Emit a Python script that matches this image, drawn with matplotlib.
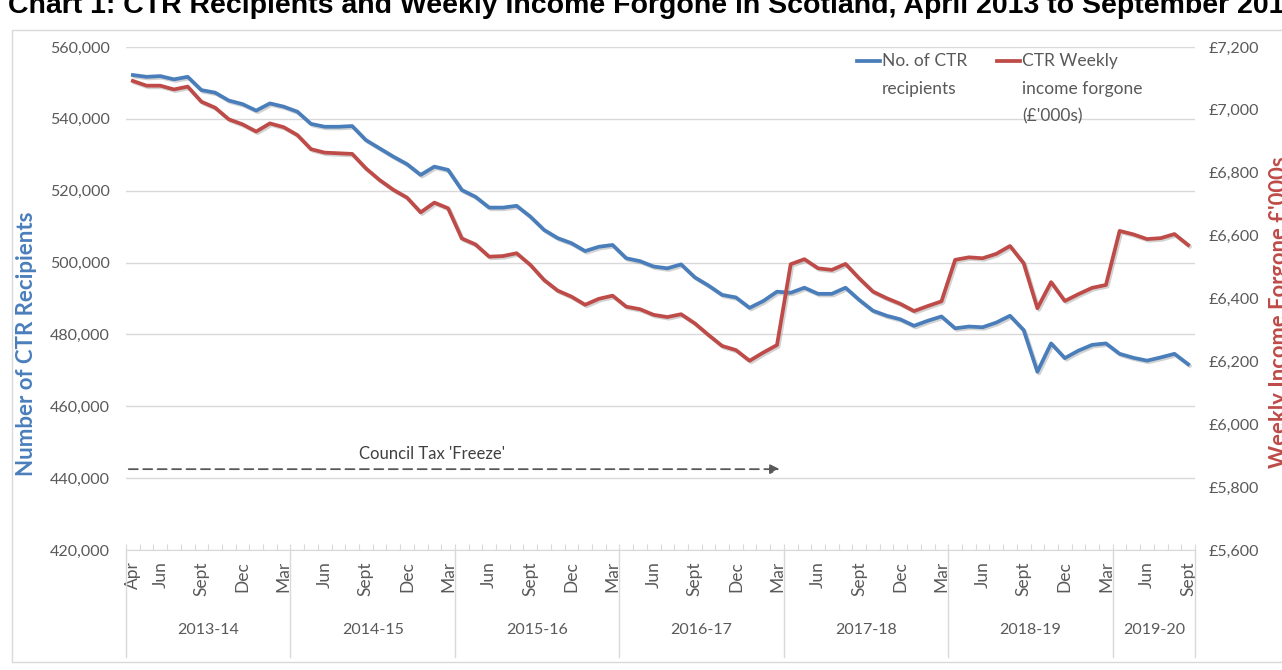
import numpy as np
import matplotlib
matplotlib.use('Agg')
import matplotlib.pyplot as plt
import matplotlib.patheffects as pe
from matplotlib.patches import Rectangle
from matplotlib.lines import Line2D
from matplotlib.ticker import FuncFormatter, MultipleLocator

plt.rcParams['font.family'] = ['Lato', 'DejaVu Sans']

'''Data read off the chart: monthly, April 2013 to September 2019'''
fin_years = ['2013-14', '2014-15', '2015-16', '2016-17', '2017-18', '2018-19', '2019-20']
months_per_year = [12, 12, 12, 12, 12, 12, 6]
month_names = ['Apr', 'May', 'Jun', 'Jul', 'Aug', 'Sept', 'Oct', 'Nov', 'Dec', 'Jan', 'Feb', 'Mar']
shown_months = ['Jun', 'Sept', 'Dec', 'Mar']   # plus 'Apr' in the first year only

recipients = [552200, 551700, 551900, 551000, 551700, 548000, 547300, 545100, 544100, 542300, 544300, 543400,
              542000, 538600, 537800, 537800, 538000, 534100, 531800, 529500, 527400, 524400, 526700, 525800,
              520200, 518300, 515300, 515300, 515800, 512800, 509100, 506800, 505400, 503200, 504400, 504900,
              501200, 500400, 498900, 498400, 499500, 495900, 493600, 491000, 490300, 487400, 489300, 491900,
              491600, 493000, 491300, 491300, 493000, 489600, 486600, 485200, 484200, 482400, 483800, 485000,
              481700, 482200, 482000, 483300, 485200, 481200, 469600, 477500, 473400, 475500, 477100, 477500,
              474600, 473500, 472700, 473600, 474600, 471700]

forgone = [7092, 7077, 7077, 7065, 7074, 7026, 7007, 6970, 6954, 6931, 6957, 6945,
           6920, 6875, 6864, 6862, 6860, 6814, 6777, 6746, 6721, 6674, 6705, 6687,
           6591, 6572, 6533, 6535, 6544, 6507, 6459, 6425, 6406, 6380, 6399, 6409,
           6374, 6366, 6348, 6341, 6350, 6321, 6284, 6249, 6236, 6202, 6228, 6252,
           6509, 6525, 6496, 6491, 6510, 6464, 6422, 6401, 6383, 6360, 6376, 6391,
           6523, 6531, 6528, 6542, 6567, 6512, 6369, 6452, 6392, 6414, 6434, 6443,
           6615, 6604, 6589, 6592, 6605, 6570]

freeze_label = "Council Tax 'Freeze'"
freeze_end = 47          # March 2017
freeze_level = 442500

blue = '#4a7ebb'
red = '#be4b48'
grey_txt = '#595959'
grid_c = '#d9d9d9'

x = np.arange(len(recipients))

fig = plt.figure(figsize=(12.82, 6.70), dpi=100)
ax = fig.add_axes([126/1282, 1 - 550/670, 1069/1282, 503/670])
ax2 = ax.twinx()

shadow = [pe.SimpleLineShadow(offset=(1.2, -1.2), shadow_color='#808080', alpha=0.35), pe.Normal()]
ax.plot(x, recipients, color=blue, lw=2.7, solid_joinstyle='round', path_effects=shadow, zorder=3)
ax2.plot(x, forgone, color=red, lw=2.7, solid_joinstyle='round', path_effects=shadow, zorder=3)

''' Axes limits and ticks '''
ax.set_xlim(-0.5, len(x) - 0.5)
ax.set_ylim(420000, 560000)
ax.yaxis.set_major_locator(MultipleLocator(20000))
ax.yaxis.set_major_formatter(FuncFormatter(lambda v, p: f'{int(v):,}'))
ax.grid(axis='y', color=grid_c, lw=1)
ax.set_axisbelow(True)
ax.tick_params(axis='y', length=0, pad=11.5, labelsize=11.5, labelcolor=grey_txt)

ax2.set_ylim(5600, 7200)
ax2.yaxis.set_major_locator(MultipleLocator(200))
ax2.yaxis.set_major_formatter(FuncFormatter(lambda v, p: f'£{int(v):,}'))
ax2.tick_params(axis='y', length=0, pad=10, labelsize=11.5, labelcolor=grey_txt)

for a in (ax, ax2):
    for s in ['left', 'right', 'top']:
        a.spines[s].set_visible(False)
ax.spines['bottom'].set_color(grid_c)
ax2.spines['bottom'].set_visible(False)

# category boundary ticks
ax.set_xticks(np.arange(len(x) + 1) - 0.5)
ax.tick_params(axis='x', which='major', direction='in', length=4, color=grid_c, labelbottom=False)

# month labels
pos, labs = [], []
start = 0
for k, n in enumerate(months_per_year):
    for m in range(n):
        name = month_names[m]
        if name in shown_months or (k == 0 and name == 'Apr'):
            pos.append(start + m)
            labs.append(name)
    start += n
ax.set_xticks(pos, labs, minor=True)
ax.tick_params(axis='x', which='minor', length=0, pad=8, labelsize=12.5, labelcolor=grey_txt, rotation=90)

# year group separators and labels
trans = ax.get_xaxis_transform()
bounds = np.concatenate([[0], np.cumsum(months_per_year)]) - 0.5
for b in bounds:
    ax.plot([b, b], [0, -107/503], color=grid_c, lw=1, transform=trans, clip_on=False)
for k, fy in enumerate(fin_years):
    ax.text((bounds[k] + bounds[k+1]) / 2, -80/503, fy, transform=trans, ha='center', va='center',
            fontsize=11.5, color=grey_txt)

''' Council tax freeze arrow '''
ax.annotate('', xy=(freeze_end + 0.2, freeze_level), xytext=(-0.3, freeze_level),
            arrowprops=dict(arrowstyle='-|>', color=grey_txt, lw=1.3, linestyle=(0, (5, 3)),
                            mutation_scale=14, shrinkA=0, shrinkB=0))
ax.text(21.8, freeze_level + 4200, freeze_label, ha='center', va='center', fontsize=12, color='#404040')

''' Axis titles '''
fig.text(27/1282, 1 - 344/670, 'Number of CTR Recipients', rotation=90, ha='center', va='center',
         fontsize=16, fontweight='bold', color=blue)
fig.text(1279/1282, 1 - 312/670, "Weekly Income Forgone £'000s", rotation=90, ha='center', va='center',
         fontsize=15.8, fontweight='bold', color=red)

''' Legend '''
leg_items = [('No. of CTR\nrecipients', blue, 857), ("CTR Weekly\nincome forgone\n(£'000s)", red, 997)]
for lab, c, lx in leg_items:
    x0 = (lx - 126) / 1069
    y0 = 1 - (61 - 47) / 503
    ax.add_line(Line2D([x0, x0 + 23/1069], [y0, y0], transform=ax.transAxes, color=c, lw=2.7, clip_on=False))
    ax.text(x0 + 25/1069, y0 + 8/503, lab, transform=ax.transAxes, ha='left', va='top',
            fontsize=12.5, color=grey_txt, linespacing=1.9)

''' Title and frame '''
fig.text(8/1282, 1 - 13/670, 'Chart 1: CTR Recipients and Weekly Income Forgone in Scotland, April 2013 to September 2019',
         ha='left', va='baseline', fontsize=20.5, fontweight='bold', family='Liberation Sans')
fig.patches.append(Rectangle((12/1282, 1 - 662/670), 1.1, (662 - 30)/670, transform=fig.transFigure,
                             fill=False, edgecolor='#d9d9d9', lw=1))

plt.savefig('out.png', dpi=100)
plt.close()
